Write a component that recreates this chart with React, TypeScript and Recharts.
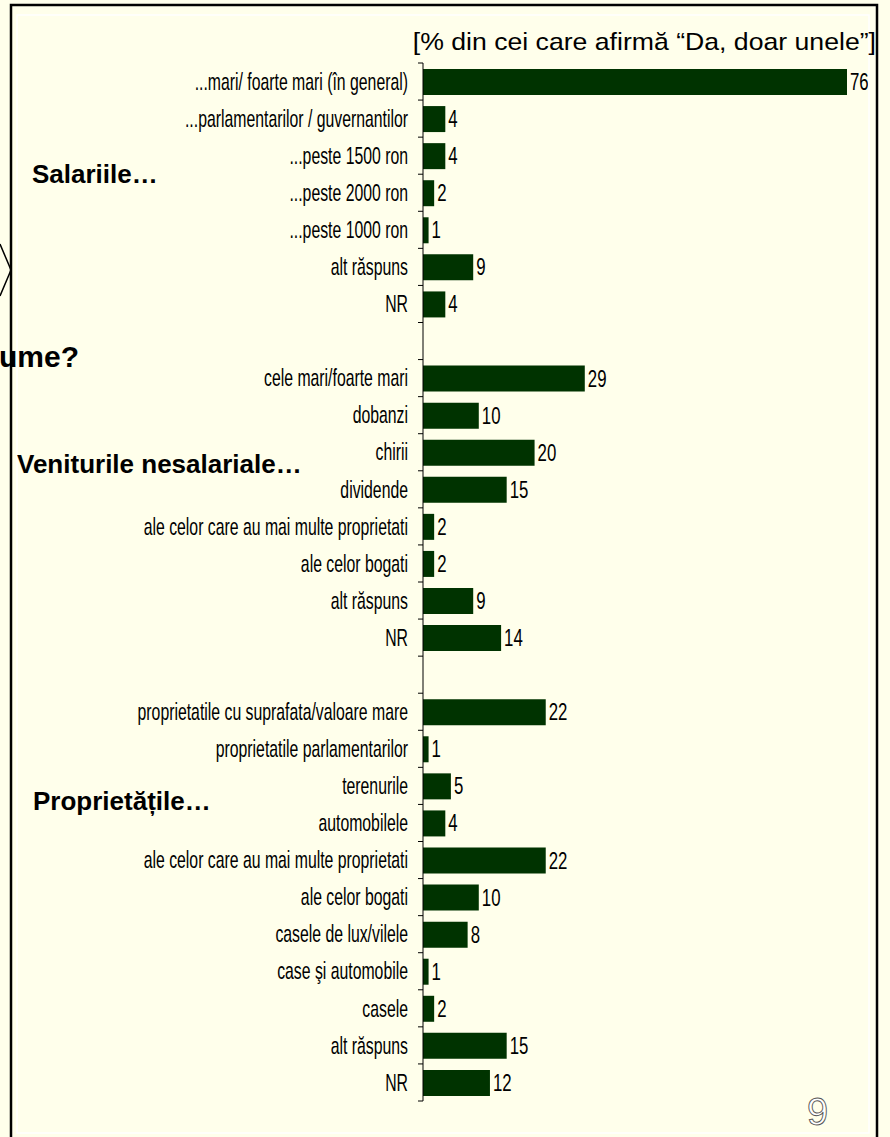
import { Bar, BarChart, LabelList, XAxis, YAxis } from "recharts";

const salariiLabels = [
  "...mari/ foarte mari (în general)",
  "...parlamentarilor / guvernantilor",
  "...peste 1500 ron",
  "...peste 2000 ron",
  "...peste 1000 ron",
  "alt răspuns",
  "NR",
];
const salariiValues = [76, 4, 4, 2, 1, 9, 4];

const venituriLabels = [
  "cele mari/foarte mari",
  "dobanzi",
  "chirii",
  "dividende",
  "ale celor care au mai multe proprietati",
  "ale celor bogati",
  "alt răspuns",
  "NR",
];
const venituriValues = [29, 10, 20, 15, 2, 2, 9, 14];

const proprietatiLabels = [
  "proprietatile cu suprafata/valoare mare",
  "proprietatile parlamentarilor",
  "terenurile",
  "automobilele",
  "ale celor care au mai multe proprietati",
  "ale celor bogati",
  "casele de lux/vilele",
  "case şi automobile",
  "casele",
  "alt răspuns",
  "NR",
];
const proprietatiValues = [22, 1, 5, 4, 22, 10, 8, 1, 2, 15, 12];

const groupTitles = ["Salariile…", "Veniturile nesalariale…", "Proprietățile…"];
const chartTitle = "[% din cei care afirmă “Da, doar unele”]";

type Row = { id: string; label: string; value: number | null };

const groups = [
  { labels: salariiLabels, values: salariiValues },
  { labels: venituriLabels, values: venituriValues },
  { labels: proprietatiLabels, values: proprietatiValues },
];

// one empty row between the groups
const rows: Row[] = [];
groups.forEach((g, gi) => {
  if (gi > 0) rows.push({ id: `gap${gi}`, label: "", value: null });
  g.labels.forEach((label, i) =>
    rows.push({ id: `${gi}-${i}`, label, value: g.values[i] })
  );
});

const W = 890;
const H = 1137;
const PLOT_TOP = 63;
const PLOT_BOTTOM = 1101;
const AXIS_X = 423;
const PLOT_RIGHT = 847;
const ROW_H = (PLOT_BOTTOM - PLOT_TOP) / rows.length;

const BG = "#FFFFEB";
const BAR = "#003300";
const SANS = '"Liberation Sans", Arial, Helvetica, sans-serif';

function CategoryTick(props: any) {
  const { x, y, payload } = props;
  const idx = rows.findIndex((r) => r.id === payload.value);
  const row = rows[idx];
  const isLast = idx === rows.length - 1;
  return (
    <g>
      <line x1={x - 5} x2={x} y1={y - ROW_H / 2} y2={y - ROW_H / 2} stroke="#000" />
      {isLast && (
        <line x1={x - 5} x2={x} y1={y + ROW_H / 2} y2={y + ROW_H / 2} stroke="#000" />
      )}
      {row && row.label && (
        <text
          transform={`translate(${x - 15},${y}) scale(0.79,1.18)`}
          textAnchor="end"
          dominantBaseline="central"
          fontFamily={SANS}
          fontSize={20}
          fill="#000"
        >
          {row.label}
        </text>
      )}
    </g>
  );
}

function ValueLabel(props: any) {
  const { x, y, width, height, value } = props;
  if (value === null || value === undefined) return null;
  return (
    <text
      transform={`translate(${x + width + 3},${y + height / 2}) scale(0.8,1.12)`}
      dominantBaseline="central"
      fontFamily={SANS}
      fontSize={21}
      fill="#000"
    >
      {value}
    </text>
  );
}

export default function App() {
  return (
    <div
      style={{
        position: "absolute",
        top: 0,
        left: 0,
        width: W,
        height: H,
        background: BG,
        overflow: "hidden",
      }}
    >
      <div style={{ position: "absolute", top: 0, left: 0 }}>
        <BarChart
          width={W}
          height={H}
          data={rows}
          layout="vertical"
          margin={{ top: PLOT_TOP, bottom: H - PLOT_BOTTOM, left: 0, right: W - PLOT_RIGHT }}
        >
          <XAxis type="number" domain={[0, 76]} hide />
          <YAxis
            type="category"
            dataKey="id"
            width={AXIS_X}
            interval={0}
            tickSize={0}
            tickMargin={0}
            tickLine={false}
            axisLine={{ stroke: "#000" }}
            tick={<CategoryTick />}
          />
          <Bar dataKey="value" fill={BAR} barSize={26} isAnimationActive={false}>
            <LabelList dataKey="value" content={<ValueLabel />} />
          </Bar>
        </BarChart>
      </div>
      <svg
        width={W}
        height={H}
        style={{ position: "absolute", top: 0, left: 0, pointerEvents: "none" }}
      >
        <rect x={17} y={15} width={852} height={1118} fill="none" stroke="#ffffff" strokeWidth={1.5} />
        <rect x={11} y={5} width={866} height={1200} fill="none" stroke="#000" strokeWidth={2.5} />
        <polyline points="0,244 11,270 0,296" fill="none" stroke="#000" strokeWidth={1.5} />
        <text
          transform="translate(876,50) scale(1.11,1)"
          textAnchor="end"
          fontFamily={SANS}
          fontSize={24}
          fill="#000"
        >
          {chartTitle}
        </text>
        <text x={32} y={183} fontFamily={SANS} fontWeight="bold" fontSize={26} fill="#000">
          {groupTitles[0]}
        </text>
        <text x={17} y={473} fontFamily={SANS} fontWeight="bold" fontSize={26} fill="#000">
          {groupTitles[1]}
        </text>
        <text x={33} y={810} fontFamily={SANS} fontWeight="bold" fontSize={26} fill="#000">
          {groupTitles[2]}
        </text>
        <text x={-1} y={367} fontFamily={SANS} fontWeight="bold" fontSize={30} fill="#000">
          ume?
        </text>
        <text
          x={807}
          y={1125}
          fontFamily={SANS}
          fontSize={38}
          fill="#ffffff"
          stroke="#555"
          strokeWidth={0.9}
        >
          9
        </text>
      </svg>
    </div>
  );
}
